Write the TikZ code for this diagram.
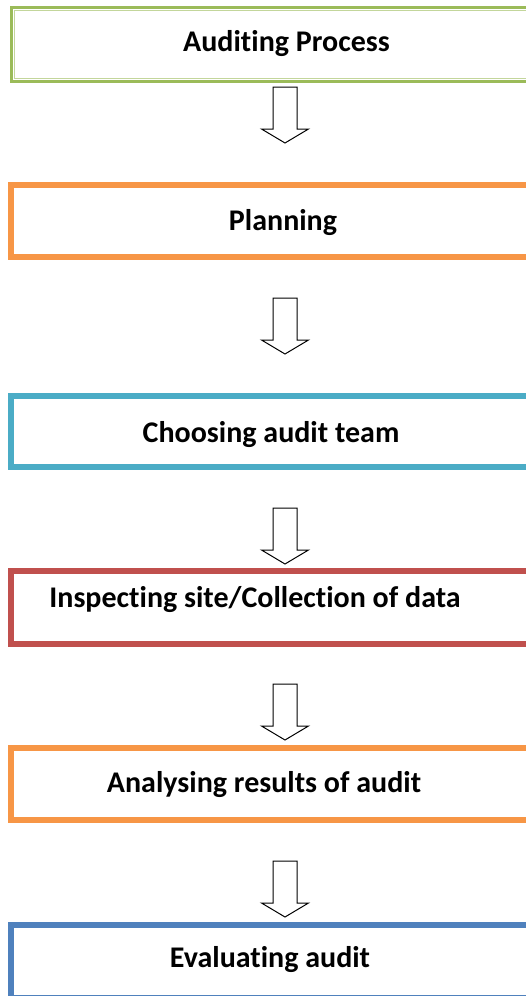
\documentclass[tikz,border=0pt]{standalone}
\usepackage{fontspec}
\setmainfont[Ligatures={NoCommon,NoRare,NoContextual}]{Carlito}
\definecolor{stepgreen}{HTML}{9BBB59}
\definecolor{stepgreenlt}{HTML}{C3D69B}
\definecolor{steporange}{HTML}{F79646}
\definecolor{stepteal}{HTML}{4BACC6}
\definecolor{stepred}{HTML}{C0504D}
\definecolor{stepblue}{HTML}{4F81BD}
\begin{document}
\begin{tikzpicture}[x=1pt,y=-1pt,
	frame/.style={line width=6pt},
	lbl/.style={anchor=base,font=\fontsize{30}{36}\selectfont\bfseries}]
		\useasboundingbox (0,0) rectangle (526,996);
		\clip (0,0) rectangle (526,996);
		% boxes
		\draw[stepgreen,line width=3pt] (11.5,7.5) rectangle (560,81.5);
		\draw[stepgreenlt,line width=1pt] (14.5,10.5) rectangle (560,78.5);
		\draw[frame,steporange] (10.5,185) rectangle (560,256.5);
		\draw[frame,stepteal] (10.5,395.5) rectangle (560,466.5);
		\draw[frame,stepred] (10.5,571) rectangle (560,643.5);
		\draw[frame,steporange] (10.5,748) rectangle (560,820);
		\draw[frame,stepblue] (10.5,924.5) rectangle (560,997.5);
		% labels
		\node[lbl] (audit) at (286.5,51.7) {Auditing Process};
		\node[lbl] (plan) at (283,230) {Planning};
		\node[lbl] (team) at (271,442) {Choosing audit team};
		\node[lbl] (site) at (255,607) {Inspecting site/Collection of data};
		\node[lbl] (result) at (264,792) {Analysing results of audit};
		\node[lbl] (eval) at (270,967) {Evaluating audit};
		% arrows
		\foreach \y in {87,298,508,684,861}
		\draw[line width=1pt,line join=miter,shift={(285,\y)}] (-12,0)--(12,0)--(12,42)--(23.5,42)--(0,56)--(-23.5,42)--(-12,42)--cycle;
\end{tikzpicture}
\end{document}
